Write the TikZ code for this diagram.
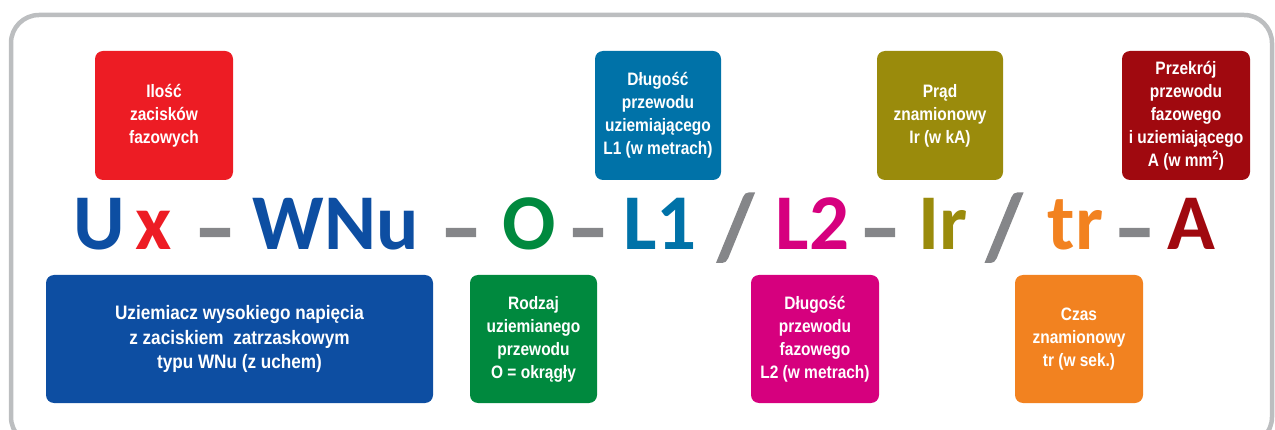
\documentclass[tikz,border=0pt]{standalone}
\usepackage{fontspec}
\newfontfamily\boxfont{Liberation Sans}[FakeStretch=0.86]
\newfontfamily\bigboxfont{Liberation Sans}[FakeStretch=0.88]
\newfontfamily\codefont{Carlito}
\newfontfamily\sepfont{Carlito}[FakeBold=3]
\definecolor{cRed}{HTML}{ED1C24}
\definecolor{cTeal}{HTML}{0072A8}
\definecolor{cOlive}{HTML}{9A8B0C}
\definecolor{cDarkRed}{HTML}{A0090F}
\definecolor{cNavy}{HTML}{0D4EA2}
\definecolor{cGreen}{HTML}{00893E}
\definecolor{cMagenta}{HTML}{D6007E}
\definecolor{cOrange}{HTML}{F28220}
\definecolor{cGray}{HTML}{858689}
\definecolor{cFrame}{HTML}{BCBEC0}
\newcommand\dashtok{\raisebox{-5pt}{–}}
\newcommand\slashtok{\raisebox{-7.5pt}{\scalebox{1}[1.15]{/}}}
\begin{document}
\begin{tikzpicture}[x=1pt,y=-1pt,
  infobox/.style={rounded corners=8pt, inner sep=0pt, text=white, align=center,
    font=\boxfont\bfseries\fontsize{18}{23}\selectfont},
  codetok/.style={anchor=base, inner sep=0pt, font=\codefont\bfseries\fontsize{79}{79}\selectfont},
  sep/.style={anchor=base, inner sep=0pt, text=cGray, font=\sepfont\bfseries\fontsize{79}{79}\selectfont}]
\useasboundingbox (0,0) rectangle (1275,430);
\draw[cFrame, line width=4.5pt, rounded corners=28pt] (11,15) rectangle (1272,445);
% top boxes
\node[infobox, fill=cRed, minimum width=138pt, minimum height=129pt] (ilosc) at (164,115.5) {Ilość\\zacisków\\fazowych};
\node[infobox, fill=cTeal, minimum width=126pt, minimum height=129pt] (dl1) at (658,115.5) {Długość\\przewodu\\uziemiającego\\L1 (w metrach)};
\node[infobox, fill=cOlive, minimum width=126pt, minimum height=129pt] (prad) at (940,115.5) {Prąd\\znamionowy\\Ir (w kA)};
\node[infobox, fill=cDarkRed, minimum width=128pt, minimum height=129pt] (przekroj) at (1186,115.5) {Przekrój\\przewodu\\fazowego\\i uziemiającego\\A (w mm\textsuperscript{2})};
% bottom boxes
\node[infobox, fill=cNavy, minimum width=387pt, minimum height=128pt,
  font=\bigboxfont\bfseries\fontsize{19.5}{24.5}\selectfont] (uziem) at (239.5,339) {Uziemiacz wysokiego napięcia\\z zaciskiem\ \ zatrzaskowym\\typu WNu (z uchem)};
\node[infobox, fill=cGreen, minimum width=127pt, minimum height=128pt] (rodzaj) at (533.5,339) {Rodzaj\\uziemianego\\przewodu\\O = okrągły};
\node[infobox, fill=cMagenta, minimum width=128pt, minimum height=128pt] (dl2) at (815,339) {Długość\\przewodu\\fazowego\\L2 (w metrach)};
\node[infobox, fill=cOrange, minimum width=128pt, minimum height=128pt] (czas) at (1079,339) {Czas\\znamionowy\\tr (w sek.)};
% code line
\node[codetok, text=cNavy] (tU) at (99,250) {U};
\node[codetok, text=cRed] (tx) at (153.5,250) {x};
\node[sep] (d1) at (215,250) {\dashtok};
\node[codetok, text=cNavy] (tWNu) at (336,250) {WNu};
\node[sep] (d2) at (461,250) {\dashtok};
\node[codetok, text=cGreen] (tO) at (529.5,250) {O};
\node[sep] (d3) at (588,250) {\dashtok};
\node[codetok, text=cTeal] (tL1) at (660,250) {L1};
\node[sep] (s1) at (735.5,250) {\slashtok};
\node[codetok, text=cMagenta] (tL2) at (812.5,250) {L2};
\node[sep] (d4) at (880,250) {\dashtok};
\node[codetok, text=cOlive] (tIr) at (943,250) {Ir};
\node[sep] (s2) at (1004,250) {\slashtok};
\node[codetok, text=cOrange] (ttr) at (1075.5,250) {tr};
\node[sep] (d5) at (1134.5,250) {\dashtok};
\node[codetok, text=cDarkRed] (tA) at (1191,250) {A};
\end{tikzpicture}
\end{document}
